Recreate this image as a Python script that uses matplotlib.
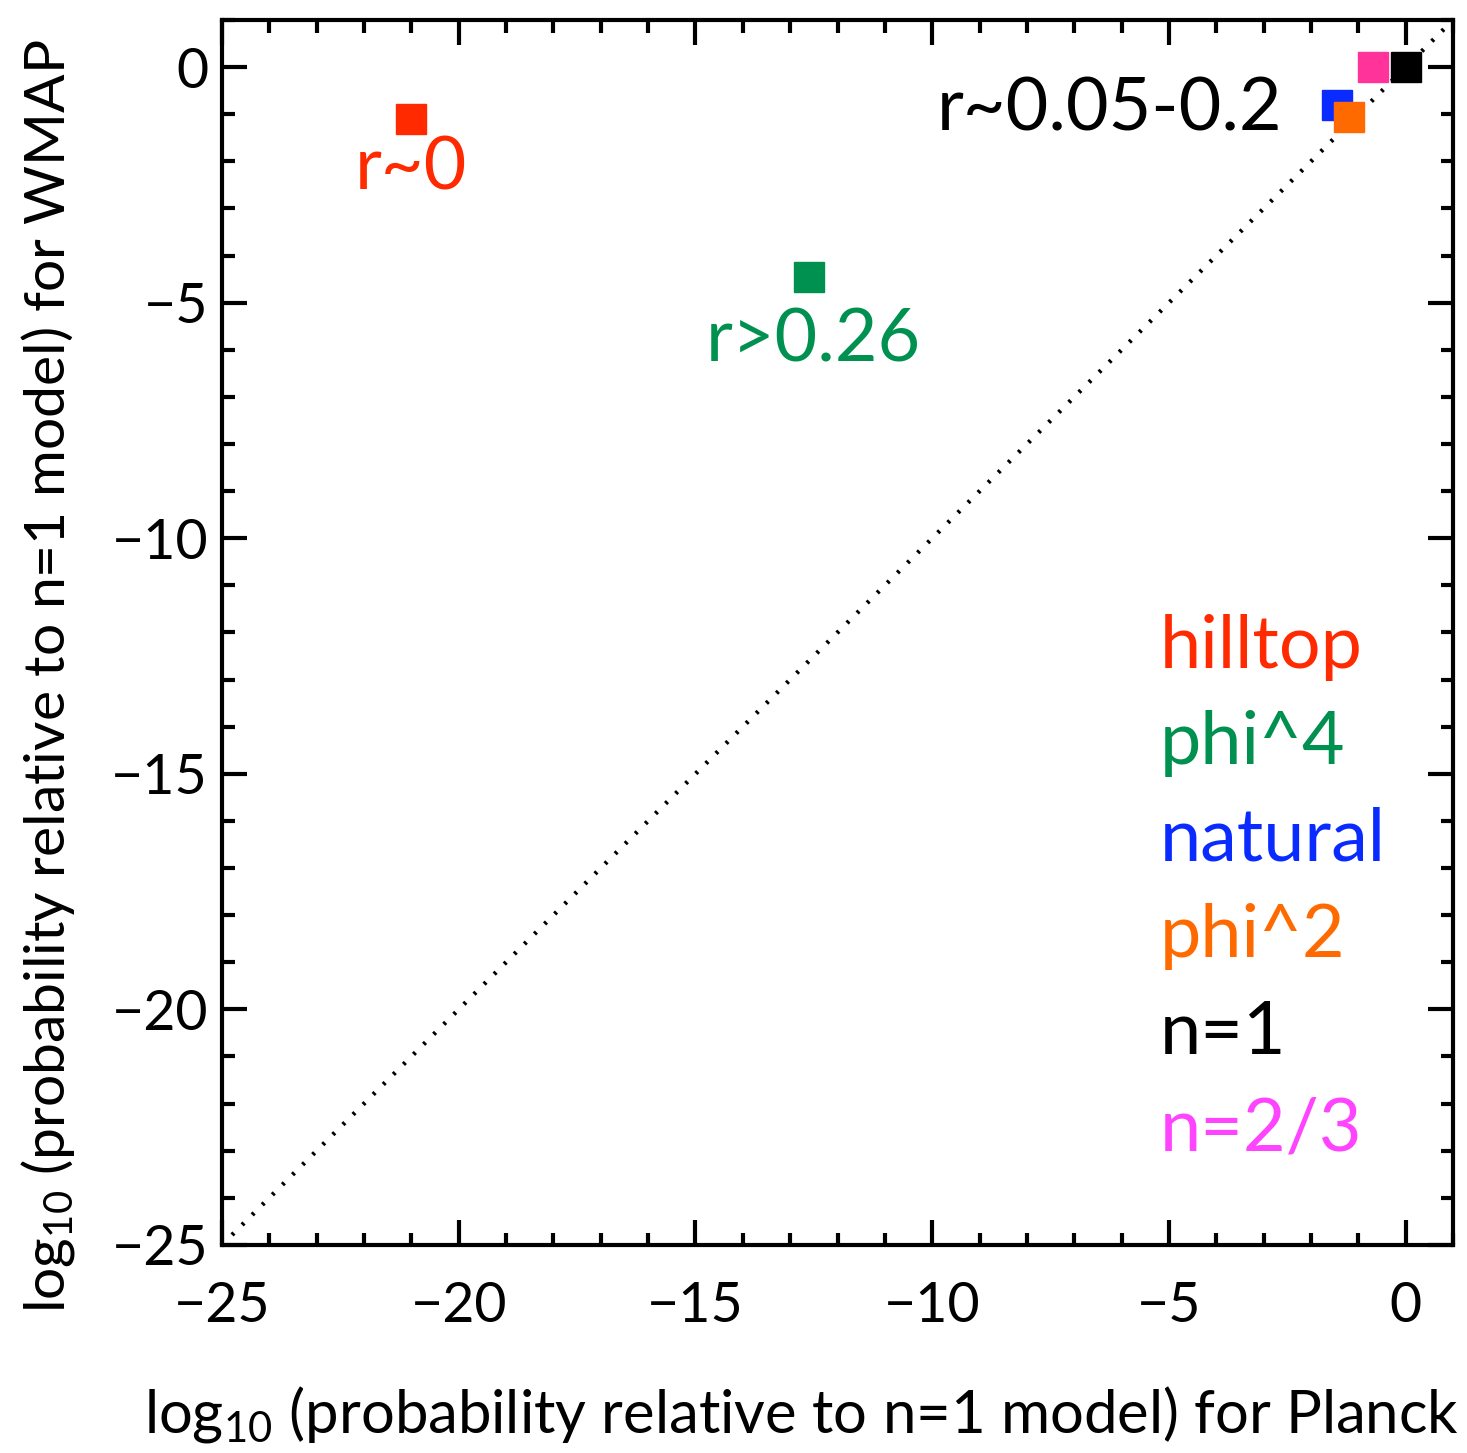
import matplotlib
matplotlib.use("Agg")
import matplotlib.pyplot as plt

plt.rcParams["font.family"] = ["Lato", "DejaVu Sans"]
plt.rcParams["mathtext.fontset"] = "custom"
plt.rcParams["mathtext.rm"] = "Lato"
plt.rcParams["mathtext.default"] = "rm"

# log10 probability relative to n=1
models = ["hilltop", "phi^4", "natural", "phi^2", "n=1", "n=2/3"]
planck = [-21.0, -12.6, -1.45, -1.2, 0.0, -0.7]
wmap = [-1.1, -4.45, -0.8, -1.05, 0.0, 0.0]
marker_colors = ["#FF2A00", "#009150", "#0A2BFF", "#FF6A00", "#000000", "#FF3399"]
label_colors = ["#FF2A00", "#009150", "#0A2BFF", "#FF6A00", "#000000", "#FF44FF"]

notes = ["r~0", "r>0.26", "r~0.05-0.2"]
note_x = [-21.0, -12.5, -2.6]
note_y = [-2.6, -6.25, -1.35]
note_colors = ["#FF2A00", "#009150", "#000000"]
note_ha = ["center", "center", "right"]

fig = plt.figure(figsize=(14.67, 14.53), dpi=100)
ax = fig.add_axes([0.1513, 0.1432, 0.8392, 0.843])

ax.plot([-25, 1], [-25, 1], color="black", linestyle=(0, (0.6, 2.6)), linewidth=3.2)

draw_order = [5, 4, 0, 1, 2, 3]
for i in draw_order:
    ax.plot(planck[i], wmap[i], marker="s", markersize=21, color=marker_colors[i],
            linestyle="none")

for txt, x, y, c, ha in zip(notes, note_x, note_y, note_colors, note_ha):
    ax.text(x, y, txt, color=c, fontsize=53, ha=ha, va="baseline")

for k, (name, c) in enumerate(zip(models, label_colors)):
    ax.text(0.762, 0.471 - k * 0.0787, name, color=c, fontsize=53,
            transform=ax.transAxes, ha="left", va="baseline")

ax.set_xlim(-25, 1)
ax.set_ylim(-25, 1)
ax.set_xticks([-25, -20, -15, -10, -5, 0])
ax.set_yticks([-25, -20, -15, -10, -5, 0])
ax.set_xticks(range(-25, 2), minor=True)
ax.set_yticks(range(-25, 2), minor=True)
ax.tick_params(which="both", direction="in", top=True, right=True, width=3)
ax.tick_params(which="major", length=18, labelsize=40)
ax.tick_params(axis="x", which="major", pad=26)
ax.tick_params(axis="y", which="major", pad=10)
ax.tick_params(which="minor", length=9)
for s in ax.spines.values():
    s.set_linewidth(3)

fig.text(0.546, 0.014, "log$_{10}$ (probability relative to n=1 model) for Planck",
         fontsize=43, ha="center", va="baseline")
fig.text(0.033, 0.535, "log$_{10}$ (probability relative to n=1 model) for WMAP",
         fontsize=41, ha="center", va="center", rotation=90)

fig.savefig("out.png", dpi=100)
